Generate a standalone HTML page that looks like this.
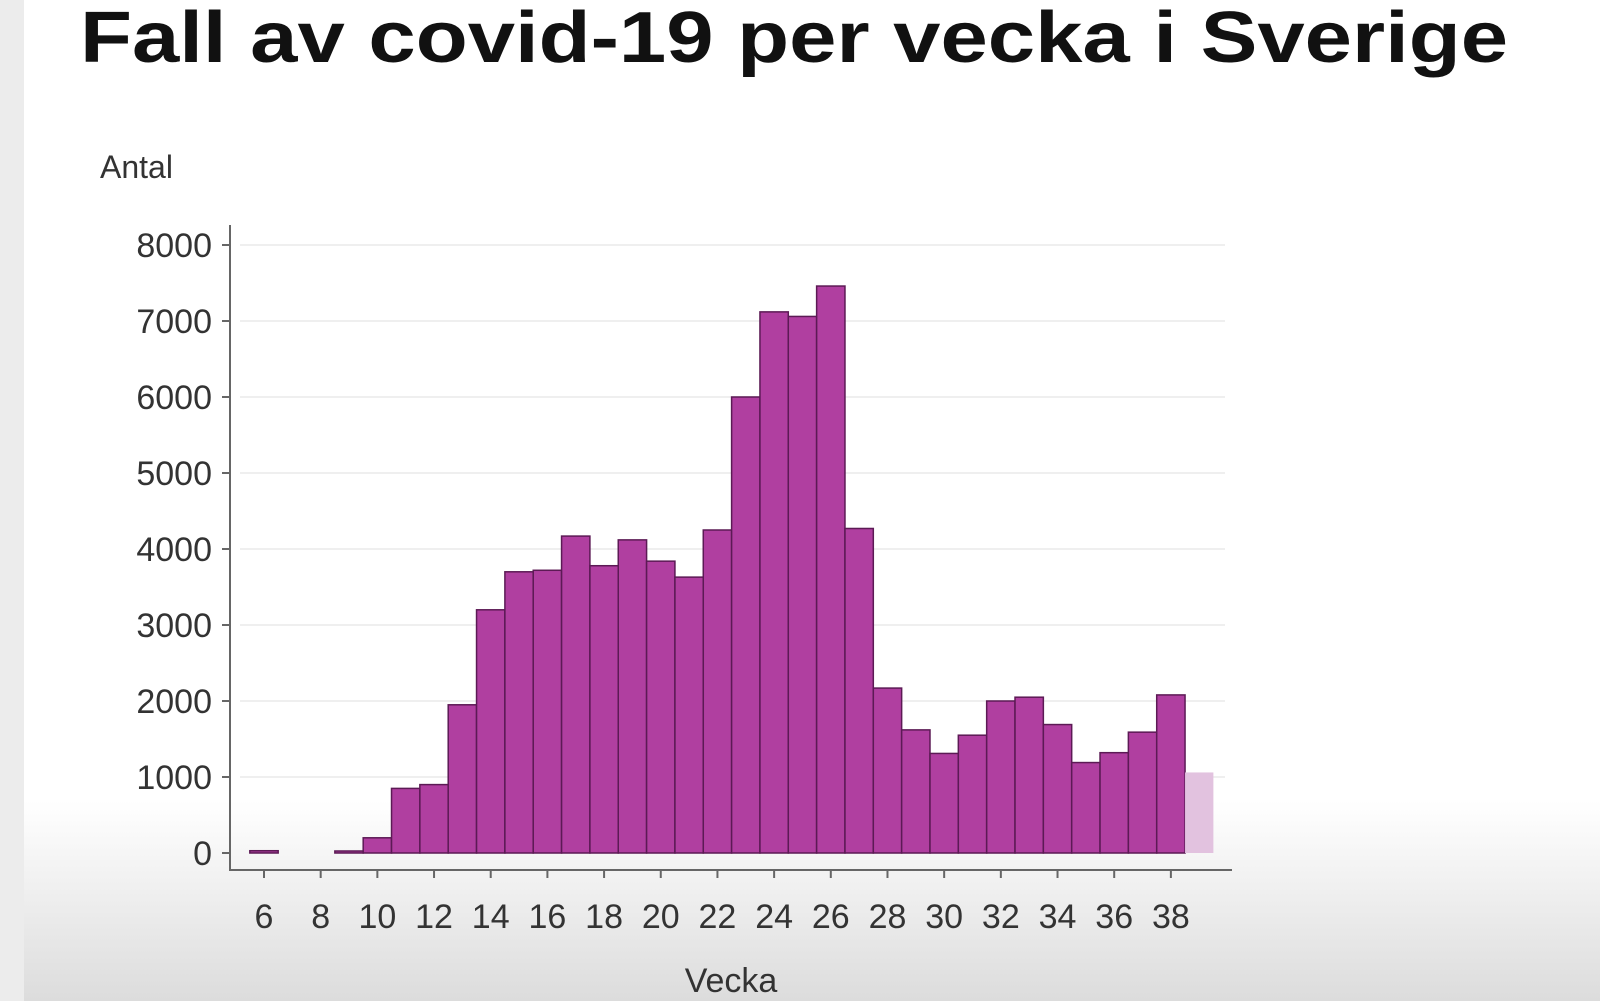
<!DOCTYPE html>
<html><head><meta charset="utf-8"><style>
html,body{margin:0;padding:0;width:1600px;height:1001px;overflow:hidden;font-family:"Liberation Sans",sans-serif}
</style></head><body>
<svg id="chart" width="1600" height="1001" xmlns="http://www.w3.org/2000/svg">
<defs>
<linearGradient id="bg" x1="0" y1="0" x2="0" y2="1">
<stop offset="0" stop-color="#ffffff"/><stop offset="0.8" stop-color="#ffffff"/><stop offset="1" stop-color="#dcdcdc"/>
</linearGradient>
</defs>
<rect x="0" y="0" width="1600" height="1001" fill="url(#bg)"/>
<rect x="0" y="0" width="24" height="1001" fill="#ececec"/>
<text x="80" y="62" font-size="72" font-weight="bold" fill="#111" textLength="1428" lengthAdjust="spacingAndGlyphs">Fall av covid-19 per vecka i Sverige</text>
<text x="100" y="178" font-size="32" fill="#333">Antal</text>
<text x="731" y="992" font-size="34" fill="#333" text-anchor="middle">Vecka</text>
<g id="grid"></g><g id="bars"></g><g id="axes"></g>
</svg>
<script>
const weeks=[6,7,8,9,10,11,12,13,14,15,16,17,18,19,20,21,22,23,24,25,26,27,28,29,30,31,32,33,34,35,36,37,38];
const cases=[30,0,0,20,200,850,900,1950,3200,3700,3720,4170,3780,4120,3840,3630,4250,6000,7120,7060,7460,4270,2170,1620,1310,1550,2000,2050,1690,1190,1320,1590,2080];
const prelimWeeks=[39];
const prelimCases=[1060];
const yTicks=[0,1000,2000,3000,4000,5000,6000,7000,8000];
const xTicks=[6,8,10,12,14,16,18,20,22,24,26,28,30,32,34,36,38];
const NS="http://www.w3.org/2000/svg";
const x=w=>264+(w-6)*28.34;
const y=v=>853-v*0.076;
const bw=28.34;
function mk(t,a,p){const e=document.createElementNS(NS,t);for(const k in a)e.setAttribute(k,a[k]);p.appendChild(e);return e;}
const grid=document.getElementById('grid'),bars=document.getElementById('bars'),axes=document.getElementById('axes');
yTicks.forEach(v=>{
 if(v>0){const g=mk('line',{x1:240,x2:1225,y1:y(v),y2:y(v),stroke:'#efefef','stroke-width':2},grid);
 
 }
 const t=mk('line',{x1:222,x2:230,y1:y(v),y2:y(v),stroke:'#666','stroke-width':2},axes);
 
 
 const l=mk('text',{x:212,y:y(v)+12,'font-size':34,fill:'#333','text-anchor':'end'},axes);
 l.textContent=v;
 
 
});
weeks.forEach((w,i)=>{
 const v=cases[i];
 const h=Math.max(y(0)-y(v),v>0?2:0);
 if(v<=0)return;
 const r=mk('rect',{x:x(w)-bw/2,y:y(0)-h,width:bw,height:h,fill:'#b03fa0',stroke:'#5c1a55','stroke-width':1.5},bars);
 
 
});
prelimWeeks.forEach((w,i)=>{
 const v=prelimCases[i];
 const r=mk('rect',{x:x(w)-bw/2,y:y(v),width:bw,height:y(0)-y(v),fill:'#e2c2df'},bars);
 
 
});
const ya=mk('line',{x1:230,x2:230,y1:225,y2:870,stroke:'#666','stroke-width':2},axes);


const xa=mk('line',{x1:229,x2:1232,y1:870,y2:870,stroke:'#666','stroke-width':2},axes);


xTicks.forEach(w=>{
 const t=mk('line',{x1:x(w),x2:x(w),y1:870,y2:878,stroke:'#666','stroke-width':2},axes);
 
 
 const l=mk('text',{x:x(w),y:928,'font-size':34,fill:'#333','text-anchor':'middle'},axes);
 l.textContent=w;
 
 
});
</script>
</body></html>
